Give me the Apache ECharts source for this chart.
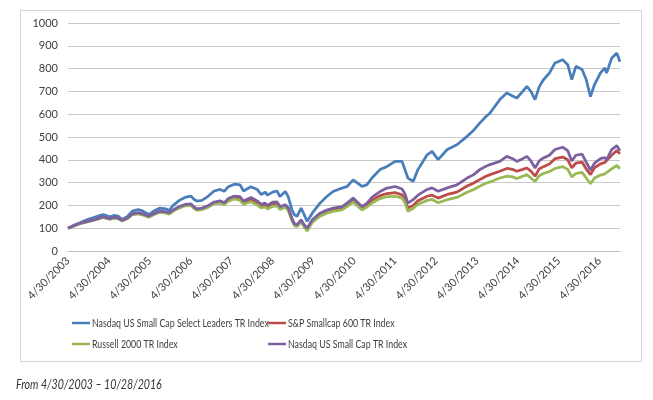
<!DOCTYPE html>
<html lang="en">
<head>
    <meta charset="UTF-8">
    <title>Small cap indexes</title>
    <script src="https://cdn.jsdelivr.net/npm/echarts@6/dist/echarts.min.js"></script>
    <style>
        html, body { margin: 0; padding: 0; background: #fff; }
    </style>
</head>
<body>
    <div id="main" style="width:653px;height:400px;"></div>

    <script>
// dates of the points
var dates = [
    '2003-04-30', '2003-07-01', '2003-08-15', '2003-10-20', '2003-12-10', '2004-02-06', '2004-03-10',
    '2004-05-10', '2004-06-12', '2004-07-20', '2004-08-25', '2004-10-12', '2004-11-25', '2005-01-15',
    '2005-02-24', '2005-04-20', '2005-06-13', '2005-07-30', '2005-09-20', '2005-10-20', '2005-11-25',
    '2006-01-18', '2006-03-10', '2006-05-01', '2006-06-03', '2006-06-25', '2006-08-08', '2006-09-25',
    '2006-11-25', '2007-01-18', '2007-02-24', '2007-04-01', '2007-05-25', '2007-07-15', '2007-08-15',
    '2007-10-20', '2007-12-15', '2008-01-18', '2008-02-25', '2008-03-15', '2008-05-01', '2008-06-10',
    '2008-07-05', '2008-08-22', '2008-09-17', '2008-10-20', '2008-11-10', '2008-12-05', '2009-01-10',
    '2009-02-06', '2009-03-05', '2009-04-20', '2009-06-28', '2009-08-28', '2009-10-23', '2010-01-11',
    '2010-02-25', '2010-04-20', '2010-07-08', '2010-08-22', '2010-10-05', '2010-12-16', '2011-02-17',
    '2011-05-01', '2011-07-01', '2011-07-27', '2011-08-22', '2011-10-08', '2011-11-20', '2012-02-10',
    '2012-03-25', '2012-05-18', '2012-08-08', '2012-11-02', '2013-02-01', '2013-04-01', '2013-05-25',
    '2013-07-20', '2013-08-25', '2013-11-20', '2014-01-22', '2014-03-14', '2014-04-22', '2014-06-13',
    '2014-07-20', '2014-08-25', '2014-10-01', '2014-11-07', '2014-12-15', '2015-02-06', '2015-03-28',
    '2015-06-05', '2015-07-20', '2015-08-25', '2015-10-01', '2015-11-25', '2016-01-01', '2016-02-08',
    '2016-03-15', '2016-05-08', '2016-06-15', '2016-07-01', '2016-08-15', '2016-10-01', '2016-10-28'
];

var leaders = [
    100, 115, 124, 138, 146, 155, 160,
    150, 156, 153, 138, 152, 175, 182,
    176, 160, 178, 188, 185, 178, 200,
    222, 235, 241, 225, 219, 222, 237,
    263, 270, 262, 282, 293, 290, 263,
    282, 270, 248, 258, 245, 258, 263,
    239, 261, 239, 181, 160, 152, 188,
    160, 130, 166, 210, 239, 261, 276,
    283, 312, 283, 291, 320, 357, 371,
    393, 393, 357, 320, 305, 357, 422,
    437, 401, 445, 466, 503, 530, 561,
    590, 605, 664, 693, 680, 671, 700,
    722, 700, 664, 720, 751, 780, 825,
    839, 817, 752, 810, 796, 752, 677,
    730, 781, 803, 780, 845, 868, 830
];

var sp600 = [
    100, 112, 121, 129, 136, 144, 148,
    141, 146, 143, 134, 144, 161, 165,
    161, 150, 163, 172, 169, 165, 177,
    192, 200, 203, 188, 181, 184, 193,
    211, 215, 208, 225, 235, 231, 213,
    226, 212, 198, 203, 193, 206, 207,
    190, 200, 186, 140, 117, 112, 133,
    112, 95, 131, 160, 174, 181, 188,
    203, 224, 188, 202, 222, 243, 252,
    256, 246, 225, 188, 200, 220, 240,
    245, 232, 248, 258, 285, 298, 313,
    328, 335, 350, 362, 358, 350, 358,
    364, 350, 328, 360, 370, 382, 405,
    412, 400, 365, 385, 390, 360, 335,
    365, 382, 388, 380, 420, 441, 426
];

var russell = [
    100, 112, 120, 128, 134, 142, 147,
    139, 144, 141, 132, 142, 160, 163,
    158, 148, 161, 170, 166, 162, 175,
    189, 198, 200, 185, 178, 181, 190,
    207, 210, 203, 218, 228, 222, 205,
    216, 202, 189, 193, 184, 196, 198,
    182, 192, 178, 134, 112, 107, 128,
    106, 88, 125, 153, 166, 174, 180,
    195, 215, 180, 193, 210, 230, 238,
    240, 232, 212, 174, 186, 205, 222,
    226, 212, 225, 235, 258, 270, 284,
    297, 303, 320, 328, 325, 318, 328,
    335, 320, 305, 330, 340, 348, 362,
    370, 358, 325, 340, 345, 320, 295,
    320, 333, 338, 330, 360, 375, 361
];

var nasdaqSmall = [
    100, 113, 122, 130, 135, 145, 150,
    142, 148, 145, 135, 145, 163, 168,
    163, 153, 166, 175, 172, 168, 180,
    195, 204, 207, 192, 185, 188, 197,
    215, 220, 212, 230, 241, 238, 219,
    235, 220, 205, 210, 200, 214, 215,
    195, 203, 190, 144, 120, 115, 137,
    115, 100, 137, 166, 180, 188, 195,
    210, 232, 195, 210, 235, 261, 276,
    283, 272, 250, 210, 225, 245, 270,
    277, 262, 277, 290, 320, 335, 357,
    372, 379, 393, 415, 405, 393, 405,
    415, 395, 364, 395, 408, 420, 445,
    455, 440, 395, 420, 425, 390, 355,
    385, 405, 410, 400, 445, 462, 440
];

var seriesNames = [
    'Nasdaq US Small Cap Select Leaders TR Index',
    'S&P Smallcap 600 TR Index',
    'Russell 2000 TR Index',
    'Nasdaq US Small Cap TR Index'
];
var seriesColors = ['#4a7ebb', '#be4b48', '#98b954', '#7d60a0'];

var startYear = 2003;

function yearsFromStart(d) {
    return (Date.parse(d) - Date.parse('2003-04-30')) / (365.25 * 864e5);
}

function toPoints(values) {
    return values.map(function (v, i) { return [yearsFromStart(dates[i]), v]; });
}

var font = 'Lato, "Open Sans", sans-serif';
var myChart = echarts.init(document.getElementById('main'));

var series = [leaders, sp600, russell, nasdaqSmall].map(function (vals, i) {
    return {
        name: seriesNames[i],
        type: 'line',
        data: toPoints(vals),
        showSymbol: false,
        symbol: 'none',
        lineStyle: { width: 2.75, color: seriesColors[i] },
        itemStyle: { color: seriesColors[i] },
        animation: false
    };
});

// legend drawn by hand: Calibri in the original is much narrower than any installed font,
// so the text is squeezed a little to keep the two columns apart
var legendSlots = [[72, 323], [268, 323], [72, 344], [268, 344]];
var legendItems = [];
seriesNames.forEach(function (name, i) {
    var x = legendSlots[i][0], y = legendSlots[i][1];
    legendItems.push({
        type: 'line',
        shape: { x1: x, y1: y, x2: x + 18, y2: y },
        style: { stroke: seriesColors[i], lineWidth: 2.5 },
        silent: true
    });
    legendItems.push({
        type: 'text',
        x: x + 20,
        y: y,
        scaleX: 0.8,
        style: {
            text: name,
            font: '11px ' + font,
            fill: '#404040',
            verticalAlign: 'middle'
        },
        silent: true
    });
});

myChart.setOption({
    animation: false,
    color: seriesColors,
    grid: { left: 68, right: 33, top: 23, bottom: 149 },
    xAxis: {
        type: 'value',
        min: 0,
        max: 13.5,
        interval: 1,
        splitLine: { show: false },
        axisTick: { show: false },
        axisLine: { lineStyle: { color: '#bfbfbf' } },
        axisLabel: {
            rotate: 45,
            margin: 8,
            fontFamily: font,
            fontSize: 11,
            color: '#404040',
            showMaxLabel: false,
            formatter: function (v) {
                if (Math.abs(v - Math.round(v)) > 1e-6) return '';
                return '4/30/' + (startYear + Math.round(v));
            }
        }
    },
    yAxis: {
        type: 'value',
        min: 0,
        max: 1000,
        interval: 100,
        axisLine: { show: false },
        axisTick: { show: false },
        splitLine: { lineStyle: { color: '#c8c8c8', width: 1 } },
        axisLabel: {
            margin: 10,
            fontFamily: font,
            fontSize: 11,
            color: '#404040',
            formatter: function (v) { return String(v); }
        }
    },
    graphic: [
        {
            type: 'rect',
            shape: { x: 20.5, y: 10.5, width: 621, height: 351 },
            style: { fill: 'none', stroke: '#d4d4d4', lineWidth: 1 },
            silent: true
        },
        {
            type: 'text',
            x: 16,
            y: 385,
            scaleX: 0.85,
            style: {
                text: 'From 4/30/2003 \u2013 10/28/2016',
                font: 'italic 12.5px ' + font,
                fill: '#333',
                verticalAlign: 'middle'
            }
        }
    ].concat(legendItems),
    series: series
});
    </script>
</body>
</html>
